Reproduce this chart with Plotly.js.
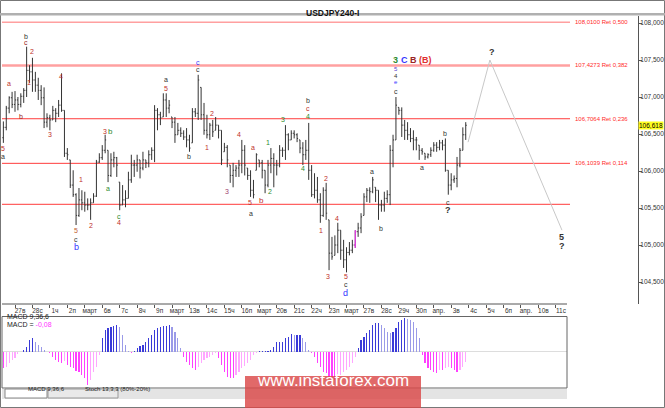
<!DOCTYPE html>
<html>
<head>
<meta charset="utf-8">
<script src="https://cdn.plot.ly/plotly-3.0.1.min.js"></script>
<style>
html, body { margin: 0; padding: 0; background: #fff; }
#chart { width: 665px; height: 408px; }
</style>
</head>
<body>
<div id="chart"></div>
<script>
// USDJPY H4 bars, first bar index is -4 (day 27 Feb starts at bar 0, 6 bars a day)
var firstBar = -4;

var open = [
  106.45,106.59,106.85,106.99,106.90,106.96,106.90,107.01,107.09,107.36,
  107.34,107.23,107.16,107.09,106.99,106.66,106.72,106.69,106.82,106.78,
  106.89,106.82,106.24,106.15,105.81,105.68,105.40,105.61,105.57,105.54,
  105.54,105.57,105.66,106.12,106.18,106.28,106.28,105.94,106.15,106.18,
  105.85,105.54,105.61,105.63,105.88,106.08,106.08,106.15,106.04,106.15,
  106.11,106.22,106.28,106.82,106.76,106.73,106.96,106.85,106.73,106.66,
  106.49,106.55,106.51,106.46,106.42,106.38,106.80,106.78,107.13,106.76,
  106.55,106.49,106.62,106.55,106.62,106.55,106.26,106.32,106.08,105.94,
  106.01,106.04,106.08,106.28,106.04,105.94,105.74,106.01,106.15,106.11,
  106.01,105.81,106.08,106.17,106.08,106.08,106.28,106.28,106.49,106.42,
  106.51,106.49,106.42,106.31,106.22,106.28,106.01,105.68,105.74,105.61,
  105.40,105.74,105.34,104.89,104.86,105.00,105.20,104.93,104.80,104.90,
  104.93,105.00,105.18,105.23,105.40,105.65,105.74,105.72,105.78,105.74,
  105.54,105.54,105.63,105.68,106.28,106.42,106.86,106.82,106.62,106.55,
  106.49,106.44,106.42,106.35,106.28,106.24,106.19,106.22,106.28,106.35,
  106.32,106.38,106.35,106.01,105.81,105.88,105.90,106.08,106.28,106.49
];
var high = [
  106.67,106.88,107.01,107.07,107.08,107.00,107.05,107.12,107.68,107.43,
  107.53,107.34,107.26,107.16,107.13,106.78,106.76,106.88,106.85,106.96,
  107.32,106.82,106.31,106.15,106.01,105.70,105.77,105.74,105.72,105.63,
  105.63,105.70,106.15,106.24,106.35,106.49,106.28,106.24,106.26,106.19,
  105.85,105.81,105.74,105.99,106.22,106.15,106.22,106.15,106.26,106.15,
  106.28,106.32,106.89,106.85,106.80,107.05,107.05,106.96,106.73,106.73,
  106.65,106.59,106.55,106.58,106.49,106.85,106.85,107.30,107.13,106.92,
  106.76,106.65,106.69,106.73,106.62,106.55,106.38,106.35,106.08,106.11,
  106.08,106.15,106.42,106.35,106.04,106.01,105.88,106.24,106.15,106.15,
  106.01,106.15,106.31,106.24,106.15,106.35,106.32,106.62,106.51,106.55,
  106.55,106.51,106.42,106.39,106.42,106.65,106.08,105.97,105.92,105.70,
  105.78,105.84,105.34,105.11,105.13,105.30,105.20,105.07,104.97,105.04,
  105.07,105.20,105.30,105.43,105.70,105.77,105.78,105.92,105.78,105.74,
  105.61,105.72,105.74,106.35,106.49,107.00,106.86,106.86,106.69,106.66,
  106.58,106.55,106.46,106.35,106.31,106.24,106.24,106.32,106.39,106.39,
  106.42,106.42,106.44,106.01,105.97,105.94,106.19,106.31,106.59,106.66
];
var low = [
  106.38,106.55,106.78,106.85,106.80,106.82,106.86,106.92,107.00,107.19,
  107.07,107.07,106.96,106.89,106.58,106.59,106.55,106.69,106.66,106.73,
  106.80,106.19,106.15,105.77,105.65,105.27,105.38,105.47,105.45,105.47,
  105.34,105.57,105.65,106.11,106.15,106.24,105.85,105.92,106.05,105.92,
  105.47,105.54,105.51,105.63,105.84,105.92,105.99,105.90,106.01,106.04,
  106.05,106.15,106.12,106.55,106.62,106.73,106.73,106.78,106.58,106.38,
  106.49,106.46,106.42,106.32,106.26,106.38,106.73,106.69,106.69,106.49,
  106.44,106.42,106.46,106.55,106.44,106.08,106.26,106.05,105.84,105.78,
  105.92,105.92,105.97,105.94,105.88,105.65,105.63,106.01,106.05,105.90,
  105.70,105.78,105.97,105.78,105.94,106.05,106.19,106.15,106.28,106.42,
  106.44,106.39,106.24,106.08,106.15,105.88,105.65,105.63,105.57,105.30,
  105.38,105.34,104.66,104.80,104.86,104.89,104.80,104.69,104.63,104.86,
  104.89,104.96,105.11,105.16,105.40,105.58,105.57,105.70,105.58,105.34,
  105.45,105.45,105.57,105.54,106.05,106.42,106.76,106.46,106.42,106.42,
  106.39,106.28,106.28,106.15,106.22,106.15,106.17,106.19,106.26,106.26,
  106.28,106.28,105.99,105.68,105.74,105.84,105.78,106.05,106.28,106.42
];
var close = [
  106.59,106.85,106.99,106.90,106.96,106.90,107.01,107.09,107.36,107.34,
  107.23,107.16,107.09,106.99,106.66,106.72,106.69,106.82,106.78,106.89,
  106.82,106.24,106.22,105.81,105.68,105.40,105.61,105.57,105.54,105.54,
  105.57,105.66,106.12,106.18,106.28,106.42,105.94,106.15,106.18,106.08,
  105.54,105.61,105.63,105.88,106.08,106.08,106.15,106.04,106.15,106.11,
  106.22,106.28,106.82,106.76,106.72,106.96,106.85,106.89,106.66,106.49,
  106.55,106.51,106.46,106.42,106.31,106.80,106.78,107.23,106.76,106.55,
  106.49,106.62,106.53,106.62,106.55,106.15,106.32,106.15,105.94,106.01,
  106.04,106.08,106.28,106.08,105.94,105.74,105.68,106.22,106.11,106.01,
  105.81,106.08,106.17,106.08,106.08,106.28,106.28,106.49,106.42,106.51,
  106.49,106.44,106.31,106.22,106.28,106.01,105.68,105.74,105.61,105.40,
  105.74,105.43,104.89,104.84,105.00,105.20,104.93,104.80,104.90,104.93,
  105.00,105.18,105.23,105.38,105.65,105.74,105.72,105.88,105.74,105.54,
  105.54,105.63,105.68,106.28,106.42,106.89,106.82,106.62,106.55,106.49,
  106.44,106.42,106.42,106.28,106.26,106.19,106.22,106.28,106.35,106.32,
  106.38,106.35,106.01,105.81,105.88,105.90,106.08,106.28,106.49,106.618
];
var macd = [
  -0.13,-0.12,-0.09,-0.07,-0.05,-0.02,-0.005,0.013,0.04,0.093,
  0.107,0.08,0.053,0.04,0.013,-0.005,-0.013,-0.04,-0.067,-0.08,
  -0.093,-0.075,-0.107,-0.12,-0.133,-0.155,-0.165,-0.187,-0.213,-0.267,
  -0.227,-0.16,-0.12,-0.03,0.107,0.173,0.187,0.2,0.208,0.213,
  0.2,0.133,0.053,0.008,-0.008,0.005,0.027,0.048,0.053,0.08,
  0.107,0.133,0.173,0.187,0.2,0.208,0.208,0.213,0.2,0.16,
  0.107,0.027,-0.04,-0.08,-0.107,-0.133,-0.147,-0.12,-0.093,-0.067,
  -0.053,-0.04,-0.027,-0.013,-0.053,-0.107,-0.16,-0.2,-0.213,-0.213,
  -0.187,-0.16,-0.128,-0.112,-0.093,-0.067,-0.027,-0.008,0.005,0.005,
  0.005,0.008,0.013,0.04,0.08,0.08,0.08,0.107,0.12,0.139,
  0.133,0.133,0.133,0.107,0.08,0.013,-0.013,-0.04,-0.093,-0.12,
  -0.16,-0.173,-0.2,-0.213,-0.227,-0.213,-0.187,-0.16,-0.147,-0.12,
  -0.093,-0.04,0.027,0.093,0.12,0.147,0.173,0.213,0.227,0.227,
  0.213,0.187,0.16,0.147,0.16,0.187,0.24,0.253,0.267,0.261,
  0.253,0.24,0.187,0.107,-0.027,-0.093,-0.133,-0.147,-0.16,-0.173,
  -0.147,-0.147,-0.133,-0.12,-0.133,-0.147,-0.16,-0.147,-0.12,-0.08
];
var markedBars = [117];

// day labels, one per 6 bars
var dayLabels = ['27в','28с','1ч','2п','март','6в','7с','8ч','9п','март','13в','14с','15ч','16п','март',
  '20в','21с','22ч','23п','март','27в','28с','29ч','30п','апр.','3в','4с','5ч','6п','апр.','10в','11с'];
var priceTicks = [104.5, 105.0, 105.5, 106.0, 106.5, 107.0, 107.5, 108.0];

var fibPrices = [108.0100, 107.4273, 106.7064, 106.1039];
var fibRatios = [0.500, 0.382, 0.236, 0.114];
var plainLevel = 105.55;

// forecast path (bar index, price)
var projBars = [155.8, 163.3, 188.1];
var projPrices = [106.39, 107.50, 105.20];

var W = 665, H = 408;
function px(x) { return x / W; }
function py(y) { return 1 - y / H; }
function barAt(p) { return (p - 15) / 2.908; }
function comma(v, d) { return v.toFixed(d).replace('.', ','); }

var FONT = 'Liberation Sans, Arial, sans-serif';
var bars = open.map(function (_, i) { return firstBar + i; });

var ohlc = {
  type: 'ohlc', x: bars, open: open, high: high, low: low, close: close,
  increasing: {line: {color: '#333333', width: 1}},
  decreasing: {line: {color: '#333333', width: 1}},
  tickwidth: 0.35, hoverinfo: 'skip', showlegend: false
};

var mk = markedBars.map(function (b) { return b - firstBar; });
var marked = {
  type: 'ohlc',
  x: mk.map(function (k) { return bars[k]; }),
  open: mk.map(function (k) { return open[k]; }),
  high: mk.map(function (k) { return high[k]; }),
  low: mk.map(function (k) { return low[k]; }),
  close: mk.map(function (k) { return close[k]; }),
  increasing: {line: {color: '#ff33ff', width: 1}},
  decreasing: {line: {color: '#ff33ff', width: 1}},
  tickwidth: 0.35, hoverinfo: 'skip', showlegend: false
};

var proj = {
  type: 'scatter', mode: 'lines', x: projBars, y: projPrices,
  line: {color: '#c8c8c8', width: 1}, hoverinfo: 'skip', showlegend: false
};

var macdColors = macd.map(function (v, i) {
  var prev = i > 0 ? macd[i - 1] : v;
  if (v >= 0) return v >= prev ? '#3a3ad8' : '#9a9ae8';
  return v <= prev ? '#ff40ff' : '#ffa6ff';
});
var macdBars = {
  type: 'bar', x: bars, y: macd, xaxis: 'x', yaxis: 'y2', width: 0.4,
  marker: {color: macdColors, line: {width: 0}}, hoverinfo: 'skip', showlegend: false
};

var shapes = [
  // frame and header band
  {type: 'rect', xref: 'paper', yref: 'paper', x0: px(0.5), x1: px(664.5), y0: py(407.5), y1: py(0.5),
   line: {color: '#777', width: 1}},
  {type: 'rect', xref: 'paper', yref: 'paper', x0: 0, x1: 1, y0: py(15.5), y1: py(13),
   fillcolor: '#b0b0b0', line: {width: 0}},
  // time axis line
  {type: 'line', xref: 'paper', yref: 'paper', x0: px(2), x1: px(567), y0: py(304), y1: py(304),
   line: {color: '#555', width: 1}},
  // indicator window
  {type: 'rect', xref: 'paper', yref: 'paper', x0: px(2), x1: px(567), y0: py(388), y1: py(316.5),
   line: {color: '#666', width: 1}},
  {type: 'line', xref: 'paper', yref: 'y2', x0: px(2), x1: px(567), y0: 0, y1: 0,
   line: {color: '#dddddd', width: 1}, layer: 'below'},
  {type: 'rect', xref: 'paper', yref: 'paper', x0: px(2), x1: px(567), y0: py(399), y1: py(389),
   fillcolor: '#e4e4e4', line: {width: 0}},
  {type: 'rect', xref: 'paper', yref: 'paper', x0: px(5), x1: px(47), y0: py(398), y1: py(389),
   fillcolor: '#ffffff', line: {color: '#888', width: 1}},
  {type: 'rect', xref: 'paper', yref: 'paper', x0: px(48), x1: px(118), y0: py(398), y1: py(389),
   fillcolor: '#e9e9e9', line: {color: '#999', width: 1}}
];

fibPrices.forEach(function (p, k) {
  var light = k < 2;
  shapes.push({type: 'line', xref: 'paper', yref: 'y', x0: px(2), x1: px(570), y0: p, y1: p,
    line: {color: light ? '#ffa0a0' : '#ff3b3b', width: k === 1 ? 2.5 : (light ? 1.5 : 1)}, layer: 'below'});
});
shapes.push({type: 'line', xref: 'paper', yref: 'y', x0: px(2), x1: px(570), y0: plainLevel, y1: plainLevel,
  line: {color: '#ff3b3b', width: 1}, layer: 'below'});

// watermark box
shapes.push({type: 'rect', xref: 'paper', yref: 'paper', x0: px(245), x1: px(421), y0: 0, y1: py(376),
  fillcolor: 'rgba(218,72,72,0.82)', line: {width: 0}, layer: 'above'});

var RED = '#c0302a', DRED = '#9a2424', BLK = '#333333', GRN = '#2e8b2e', BLU = '#3535ff', PUR = '#a04070';

// wave marks: text, bar index, price, colour, size, bold
var waves = [
  ['5', -4.1, 106.30, RED, 7], ['a', -4.1, 106.19, BLK, 7],
  ['a', -2.1, 107.18, RED, 7], ['b', 2.1, 106.73, DRED, 7],
  ['b', 3.8, 107.82, BLK, 7], ['c', 3.8, 107.74, DRED, 7],
  ['2', 5.8, 107.61, RED, 7], ['1', 4.8, 107.20, RED, 7],
  ['3', 12.0, 106.50, RED, 7], ['4', 15.8, 107.28, RED, 7],
  ['1', 22.7, 105.88, RED, 7], ['5', 21.0, 105.19, '#c06030', 7],
  ['c', 21.0, 105.08, BLK, 7], ['b', 21.0, 104.97, BLU, 9],
  ['2', 26.1, 105.27, RED, 7],
  ['3', 30.9, 106.53, RED, 7], ['b', 33.0, 106.53, GRN, 8],
  ['a', 32.0, 105.77, GRN, 7], ['c', 35.8, 105.39, GRN, 7], ['4', 35.8, 105.30, RED, 7],
  ['a', 51.9, 107.23, BLK, 7], ['5', 51.9, 107.12, RED, 7],
  ['b', 59.8, 106.19, BLK, 7],
  ['c', 62.9, 107.46, BLU, 7], ['c', 62.9, 107.37, BLK, 7],
  ['2', 67.7, 106.78, RED, 7], ['1', 66.0, 106.32, RED, 7],
  ['3', 72.9, 105.72, PUR, 7], ['4', 77.0, 106.49, RED, 7],
  ['5', 80.8, 105.57, RED, 7], ['a', 81.2, 105.43, BLK, 7],
  ['a', 81.8, 106.32, RED, 7], ['b', 84.9, 105.60, RED, 8],
  ['1', 87.0, 106.38, GRN, 7], ['2', 87.7, 105.72, GRN, 7],
  ['3', 92.2, 106.70, GRN, 7], ['4', 99.0, 106.03, GRN, 7],
  ['b', 100.8, 106.95, BLK, 7], ['c', 100.8, 106.84, RED, 7], ['4', 100.8, 106.73, GRN, 7],
  ['1', 105.2, 105.19, RED, 7], ['2', 106.9, 105.90, RED, 7], ['3', 107.6, 104.57, RED, 7],
  ['4', 110.7, 105.36, RED, 7], ['5', 113.8, 104.57, RED, 7],
  ['c', 113.8, 104.46, BLK, 7], ['d', 113.8, 104.35, BLU, 9],
  ['a', 122.8, 105.99, BLK, 7], ['b', 125.9, 105.22, BLK, 7],
  ['3', 131.0, 107.50, GRN, 9, true], ['C', 134.1, 107.50, BLU, 9, true],
  ['B', 136.9, 107.50, DRED, 9, true], ['(B)', 141.0, 107.50, '#e03030', 9, true],
  ['5', 131.0, 107.38, '#5a3ad0', 6], ['4', 131.0, 107.29, BLK, 6],
  ['e', 131.0, 107.20, BLU, 6], ['c', 131.0, 107.08, BLK, 7],
  ['a', 140.0, 106.05, BLK, 7], ['b', 147.9, 106.51, BLK, 7],
  ['c', 148.9, 105.58, BLK, 7], ['?', 148.9, 105.47, BLK, 9, true],
  ['?', 164.0, 107.61, BLK, 9, true],
  ['5', 188.1, 105.11, BLK, 9, true], ['?', 188.1, 104.98, BLK, 9, true]
];

var annotations = waves.map(function (w) {
  return {xref: 'x', yref: 'y', x: w[1], y: w[2], showarrow: false,
    text: w[5] ? '<b>' + w[0] + '</b>' : w[0],
    font: {family: FONT, size: w[4], color: w[3]}};
});

fibPrices.forEach(function (p, k) {
  annotations.push({xref: 'paper', yref: 'y', x: px(573), y: p, xanchor: 'left', showarrow: false,
    text: comma(p, 4) + ' Ret ' + comma(fibRatios[k], 3),
    font: {family: FONT, size: 6, color: '#ff2a2a'}});
});

annotations.push(
  {xref: 'paper', yref: 'paper', x: px(332), y: py(6), showarrow: false,
   text: '<b>USDJPY240-I</b>', font: {family: FONT, size: 8.5, color: '#111'}},
  {xref: 'paper', yref: 'y', x: px(638), y: close[close.length - 1], xanchor: 'left', showarrow: false,
   text: comma(close[close.length - 1], 3), bgcolor: '#ffff20', borderpad: 0,
   font: {family: FONT, size: 6.5, color: '#000'}},
  {xref: 'paper', yref: 'paper', x: px(5), y: py(321.5), xanchor: 'left', showarrow: false,
   text: 'MACD 9,36,6', font: {family: FONT, size: 7, color: '#222'}},
  {xref: 'paper', yref: 'paper', x: px(5), y: py(330), xanchor: 'left', showarrow: false,
   text: 'MACD = <span style="color:#ff33ff">' + comma(macd[macd.length - 1], 2) + '</span>',
   font: {family: FONT, size: 7, color: '#222'}},
  {xref: 'paper', yref: 'paper', x: px(26), y: py(393.5), showarrow: false,
   text: 'MACD 9,36,6', font: {family: FONT, size: 6, color: '#222'}},
  {xref: 'paper', yref: 'paper', x: px(83), y: py(393.5), showarrow: false,
   text: 'Stoch 13,3,3 (80%-20%)', font: {family: FONT, size: 6, color: '#222'}},
  {xref: 'paper', yref: 'paper', x: px(333), y: py(392), showarrow: false,
   text: 'www.instaforex.com', font: {family: FONT, size: 17, color: '#ffffff'}}
);

var layout = {
  width: W, height: H,
  margin: {l: 0, r: 0, t: 0, b: 0},
  paper_bgcolor: '#ffffff', plot_bgcolor: '#ffffff',
  separators: ', ',
  showlegend: false,
  font: {family: FONT, size: 7, color: '#333'},
  xaxis: {
    domain: [px(2), px(638)], range: [barAt(2), barAt(638)], anchor: 'y',
    tickvals: dayLabels.map(function (_, k) { return k * 6; }), ticktext: dayLabels,
    ticks: 'outside', ticklen: 3, tickcolor: '#555', tickfont: {size: 6.5, color: '#333'},
    ticklabelshift: 5, ticklabelstandoff: -3,
    showgrid: false, zeroline: false, showline: false,
    rangeslider: {visible: false}, fixedrange: true
  },
  yaxis: {
    domain: [py(304), py(16)], range: [108.311 - 304 / 74, 108.311 - 16 / 74], anchor: 'x',
    side: 'right', tickvals: priceTicks, tickformat: '.3f',
    ticks: 'outside', ticklen: 3, tickcolor: '#555', tickfont: {size: 6.5, color: '#333'},
    ticklabelstandoff: -3,
    showline: true, linecolor: '#555', linewidth: 1,
    showgrid: false, zeroline: false, fixedrange: true
  },
  yaxis2: {
    domain: [py(388), py(316)], range: [-0.292, 0.284], anchor: 'x',
    visible: false, fixedrange: true
  },
  bargap: 0,
  shapes: shapes,
  annotations: annotations
};

Plotly.newPlot('chart', [proj, ohlc, marked, macdBars], layout, {staticPlot: true, displayModeBar: false});
</script>
</body>
</html>
